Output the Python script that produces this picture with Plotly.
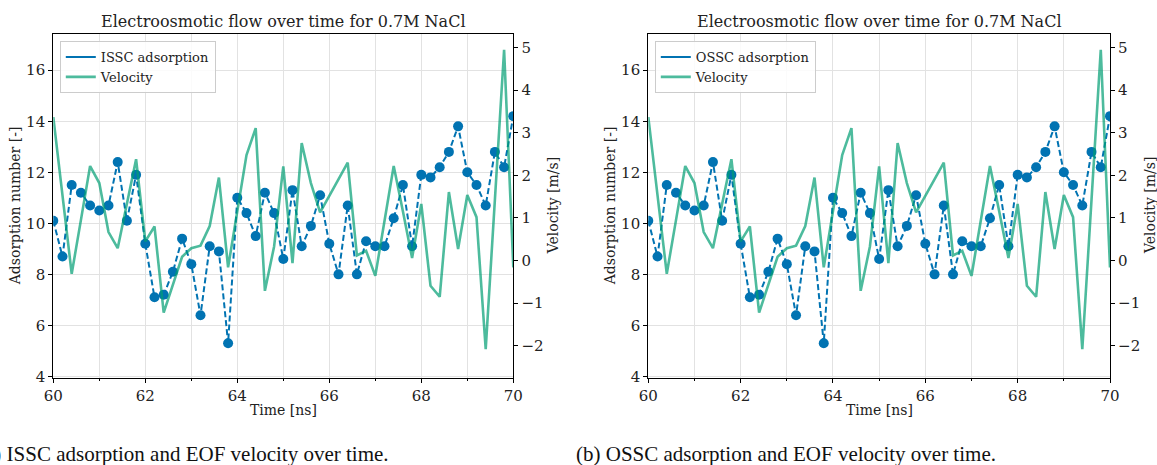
import plotly.graph_objects as go

# ---------------- data ----------------
time_ns = [round(60 + 0.2 * i, 1) for i in range(51)]

issc_adsorption = [10.1, 8.7, 11.5, 11.2, 10.7, 10.5, 10.7, 12.4, 10.1, 11.9,
                   9.2, 7.1, 7.2, 8.1, 9.4, 8.4, 6.4, 9.1, 8.9, 5.3,
                   11.0, 10.4, 9.5, 11.2, 10.4, 8.6, 11.3, 9.1, 9.9, 11.1,
                   9.2, 8.0, 10.7, 8.0, 9.3, 9.1, 9.1, 10.2, 11.5, 9.1,
                   11.9, 11.8, 12.2, 12.8, 13.8, 12.0, 11.5, 10.7, 12.8, 12.2,
                   14.2]

ossc_adsorption = [10.1, 8.7, 11.5, 11.2, 10.7, 10.5, 10.7, 12.4, 10.1, 11.9,
                   9.2, 7.1, 7.2, 8.1, 9.4, 8.4, 6.4, 9.1, 8.9, 5.3,
                   11.0, 10.4, 9.5, 11.2, 10.4, 8.6, 11.3, 9.1, 9.9, 11.1,
                   9.2, 8.0, 10.7, 8.0, 9.3, 9.1, 9.1, 10.2, 11.5, 9.1,
                   11.9, 11.8, 12.2, 12.8, 13.8, 12.0, 11.5, 10.7, 12.8, 12.2,
                   14.2]

velocity = [3.37, 1.53, -0.31, 0.95, 2.22, 1.82, 0.67, 0.29, 1.33, 2.38,
            0.45, 0.80, -1.22, -0.56, 0.09, 0.29, 0.35, 0.81, 1.95, -0.16,
            1.14, 2.48, 3.11, -0.71, 0.33, 2.21, -0.06, 2.76, 1.82, 1.13,
            1.52, 1.92, 2.30, 0.12, 0.23, -0.36, 0.93, 2.22, 1.16, 0.06,
            1.33, -0.59, -0.85, 1.61, 0.27, 1.54, 1.02, -2.08, 1.43, 4.95,
            -0.16]

x_ticks = [60, 62, 64, 66, 68, 70]
y_left_ticks = [4, 6, 8, 10, 12, 14, 16]
y_right_ticks = [-2, -1, 0, 1, 2, 3, 4, 5]

title_text = "Electroosmotic flow over time for 0.7M NaCl"
captions = ["(a) ISSC adsorption and EOF velocity over time.",
            "(b) OSSC adsorption and EOF velocity over time."]
series_names = ["ISSC adsorption", "OSSC adsorption"]

# ---------------- style ----------------
W, H = 1157, 465
BLUE = "#0173b2"
GREEN = "rgba(2,158,115,0.7)"
GRID = "#e2e2e2"
FONT = "DejaVu Serif"
TXT = "#222222"

def fx(p):
    return p / W

def fy(p):
    return 1 - p / H

panels = [
    dict(x0=53.3, x1=513.3, cap_x=-24, name=series_names[0], ads=issc_adsorption),
    dict(x0=648.3, x1=1110.0, cap_x=574, name=series_names[1], ads=ossc_adsorption),
]
y_dom = [fy(377.7), fy(34.0)]

fig = go.Figure()
layout = dict(
    width=W, height=H,
    margin=dict(l=0, r=0, t=0, b=0),
    paper_bgcolor="white", plot_bgcolor="white",
    font=dict(family=FONT, size=15, color=TXT),
    annotations=[],
)

for i, p in enumerate(panels):
    n = i * 2
    xa = "x" if i == 0 else "x%d" % (i + 1)
    ya_l = "y%d" % (n + 1) if n else "y"
    ya_r = "y%d" % (n + 2)
    leg = "legend" if i == 0 else "legend%d" % (i + 1)

    fig.add_trace(go.Scatter(
        x=time_ns, y=p["ads"], mode="lines+markers",
        line=dict(color=BLUE, width=2, dash="6px,3px"),
        marker=dict(color=BLUE, size=10),
        xaxis=xa, yaxis=ya_l, showlegend=False))
    fig.add_trace(go.Scatter(
        x=time_ns, y=velocity, mode="lines",
        line=dict(color=GREEN, width=2.6),
        xaxis=xa, yaxis=ya_r, showlegend=False))
    # legend handles
    fig.add_trace(go.Scatter(
        x=[None], y=[None], mode="lines", name=p["name"],
        line=dict(color=BLUE, width=2), xaxis=xa, yaxis=ya_l, legend=leg))
    fig.add_trace(go.Scatter(
        x=[None], y=[None], mode="lines", name="Velocity",
        line=dict(color=GREEN, width=2.6), xaxis=xa, yaxis=ya_l, legend=leg))

    xkey = "xaxis" if i == 0 else "xaxis%d" % (i + 1)
    ylkey = "yaxis" if n == 0 else "yaxis%d" % (n + 1)
    yrkey = "yaxis%d" % (n + 2)

    layout[xkey] = dict(
        domain=[fx(p["x0"]), fx(p["x1"])], range=[60, 70], anchor=ya_l,
        automargin=False,
        tickvals=x_ticks, ticks="outside", ticklen=4, tickwidth=1,
        tickcolor="black",
        minor=dict(dtick=1, tick0=60, ticks="outside", ticklen=2.5,
                   tickcolor="black", showgrid=True, gridcolor=GRID,
                   gridwidth=1.2),
        showgrid=True, gridcolor=GRID, gridwidth=1.2,
        showline=True, linecolor="black", linewidth=1.2, mirror=True,
        zeroline=False, tickfont=dict(size=15))
    layout[ylkey] = dict(
        domain=y_dom, range=[3.95, 17.42], anchor=xa, automargin=False,
        tickvals=y_left_ticks, ticks="outside", ticklen=4, tickcolor="black",
        showgrid=True, gridcolor=GRID, gridwidth=1.2,
        showline=True, linecolor="black", linewidth=1.2, mirror=True,
        zeroline=False, tickfont=dict(size=15))
    layout[yrkey] = dict(
        overlaying=ya_l, side="right", anchor=xa, automargin=False,
        range=[-2.75, 5.32], tickvals=y_right_ticks,
        ticks="outside", ticklen=4, tickcolor="black",
        showgrid=False, showline=True, linecolor="black", linewidth=1.2,
        zeroline=False, tickfont=dict(size=15))

    layout[leg] = dict(
        x=fx(p["x0"] + 6.5), y=fy(41), xanchor="left", yanchor="top",
        bgcolor="rgba(255,255,255,0.85)", bordercolor="#cccccc",
        borderwidth=1, font=dict(family=FONT, size=13, color=TXT),
        itemwidth=30, tracegroupgap=0)

    cx = (p["x0"] + p["x1"]) / 2
    layout["annotations"] += [
        dict(text=title_text, x=fx(cx), y=fy(21), xref="paper", yref="paper",
             xanchor="center", yanchor="middle", showarrow=False,
             font=dict(family=FONT, size=16, color=TXT)),
        dict(text="Time [ns]", x=fx(cx), y=fy(410), xref="paper", yref="paper",
             xanchor="center", yanchor="middle", showarrow=False,
             font=dict(family=FONT, size=14, color=TXT)),
        dict(text="Adsorption number [-]", x=fx(p["x0"] - 38), y=fy(206),
             xref="paper", yref="paper", xanchor="center", yanchor="middle",
             textangle=-90, showarrow=False,
             font=dict(family=FONT, size=14, color=TXT)),
        dict(text="Velocity [m/s]", x=fx(p["x1"] + 40), y=fy(206),
             xref="paper", yref="paper", xanchor="center", yanchor="middle",
             textangle=-90, showarrow=False,
             font=dict(family=FONT, size=14, color=TXT)),
        dict(text=captions[i], x=fx(p["cap_x"]), y=fy(454),
             xref="paper", yref="paper", xanchor="left", yanchor="middle",
             showarrow=False,
             font=dict(family="Liberation Serif", size=21, color="#111111")),
    ]

fig.update_layout(**layout)
fig.write_html("out.html")
